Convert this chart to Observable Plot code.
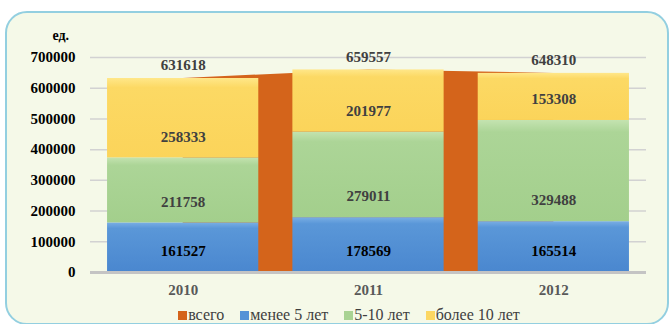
<!DOCTYPE html>
<html>
<head>
<meta charset="utf-8">
<script src="https://cdn.jsdelivr.net/npm/d3@7"></script>
<script src="https://cdn.jsdelivr.net/npm/@observablehq/plot@0.6"></script>
<style>
  html, body { margin: 0; padding: 0; background: #ffffff; }
  #wrap { position: relative; width: 670px; height: 324px; overflow: hidden; }
  #panel { position: absolute; left: 5px; top: 11px; width: 660px; height: 310px;
           border: 2px solid #93cfe0; border-radius: 22px; background: #f5f9e8; }
  #chart { position: absolute; left: 0; top: 0; }
  #legend { position: absolute; left: 0; top: 306px; width: 670px; height: 18px; display: flex; justify-content: center;
            align-items: center; padding-left: 28px; box-sizing: border-box;
            font-family: "Liberation Serif", serif; font-size: 16px; color: #404040; line-height: 18px; }
  .item { display: flex; align-items: center; margin: 0 8px; }
  .sw { width: 9px; height: 9px; margin-right: 1px; margin-top: 1px; }
</style>
</head>
<body>
<div id="wrap">
  <div id="panel"></div>
  <div id="chart"></div>
  <div id="legend"></div>
</div>
<script>
const years = [2010, 2011, 2012];
const total = [631618, 659557, 648310];
const under5 = [161527, 178569, 165514];
const from5to10 = [211758, 279011, 329488];
const over10 = [258333, 201977, 153308];
const seriesNames = ["всего", "менее 5 лет", "5-10 лет", "более 10 лет"];
const seriesColors = ["#d4641b", "#5592d6", "#a9d393", "#fcd762"];
const yTicks = [0, 100000, 200000, 300000, 400000, 500000, 600000, 700000];
const unitLabel = "ед.";

const stackSeries = [under5, from5to10, over10];
const labelColors = ["#000000", "#404040", "#404040"];
const gradIds = ["gBlue", "gGreen", "gYellow"];

const segments = [];
years.forEach((year, i) => {
  let base = 0;
  stackSeries.forEach((arr, s) => {
    segments.push({year, series: seriesNames[s + 1], s, value: arr[i], y1: base, y2: base + arr[i]});
    base += arr[i];
  });
});
const totals = years.map((year, i) => ({year, total: total[i]}));

const halfWidth = 0.408;
const font = "'Liberation Serif', serif";

const plot = Plot.plot({
  width: 670,
  height: 300,
  marginLeft: 90,
  marginRight: 24,
  marginTop: 57,
  marginBottom: 28,
  style: {background: "transparent", fontFamily: font},
  x: {domain: [2009.5, 2012.5], ticks: years, tickFormat: d => String(d), label: null},
  y: {domain: [0, 700000], ticks: yTicks, label: null},
  marks: [
    Plot.gridY(yTicks, {stroke: "#d2d2d2", strokeOpacity: 1, strokeWidth: 1.5}),
    Plot.areaY(totals, {x: "year", y: "total", fill: seriesColors[0]}),
    Plot.rect(segments, {
      x1: d => d.year - halfWidth,
      x2: d => d.year + halfWidth,
      y1: "y1", y2: "y2",
      fill: d => `url(#${gradIds[d.s]})`
    }),
    Plot.ruleY([0], {stroke: "#c4c4c4", strokeWidth: 3}),
    Plot.text(segments, {
      x: "year", y: "y1", dy: -21,
      text: d => String(d.value),
      fill: d => labelColors[d.s],
      fontWeight: "bold", fontSize: 15
    }),
    Plot.text(totals, {
      x: "year", y: "total", dy: -13,
      text: d => String(d.total),
      fill: "#404040", fontWeight: "bold", fontSize: 15
    }),
    Plot.text([unitLabel], {
      frameAnchor: "top-left", dx: -38, dy: -27, text: d => d,
      fill: "#000", fontWeight: "bold", fontSize: 14
    }),
    Plot.axisY({ticks: yTicks, tickFormat: d => String(d), tickSize: 0, tickPadding: 15,
      fontSize: 15, fontWeight: "bold", fill: "#000", label: null}),
    Plot.axisX({ticks: years, tickFormat: d => String(d), tickSize: 0, tickPadding: 12,
      fontSize: 15, fontWeight: "bold", fill: "#595959", label: null})
  ]
});

// gradients for bar faces
const svg = d3.select(plot);
const defs = svg.insert("defs", ":first-child");
const grads = [
  ["gBlue", ["#7aaee4", "#5a97d8", "#4a87cf"]],
  ["gGreen", ["#c4e3b0", "#acd597", "#a3cf8c"]],
  ["gYellow", ["#ffe789", "#fcd964", "#fbd45a"]]
];
grads.forEach(([id, cols]) => {
  const g = defs.append("linearGradient").attr("id", id)
    .attr("x1", 0).attr("y1", 0).attr("x2", 0).attr("y2", 1);
  g.append("stop").attr("offset", "0%").attr("stop-color", cols[0]);
  g.append("stop").attr("offset", "12%").attr("stop-color", cols[1]);
  g.append("stop").attr("offset", "100%").attr("stop-color", cols[2]);
});

document.getElementById("chart").appendChild(plot);

const legend = document.getElementById("legend");
seriesNames.forEach((name, i) => {
  const item = document.createElement("div");
  item.className = "item";
  const sw = document.createElement("div");
  sw.className = "sw";
  sw.style.background = seriesColors[i];
  const t = document.createElement("span");
  t.textContent = name;
  item.appendChild(sw);
  item.appendChild(t);
  legend.appendChild(item);
});
</script>
</body>
</html>
